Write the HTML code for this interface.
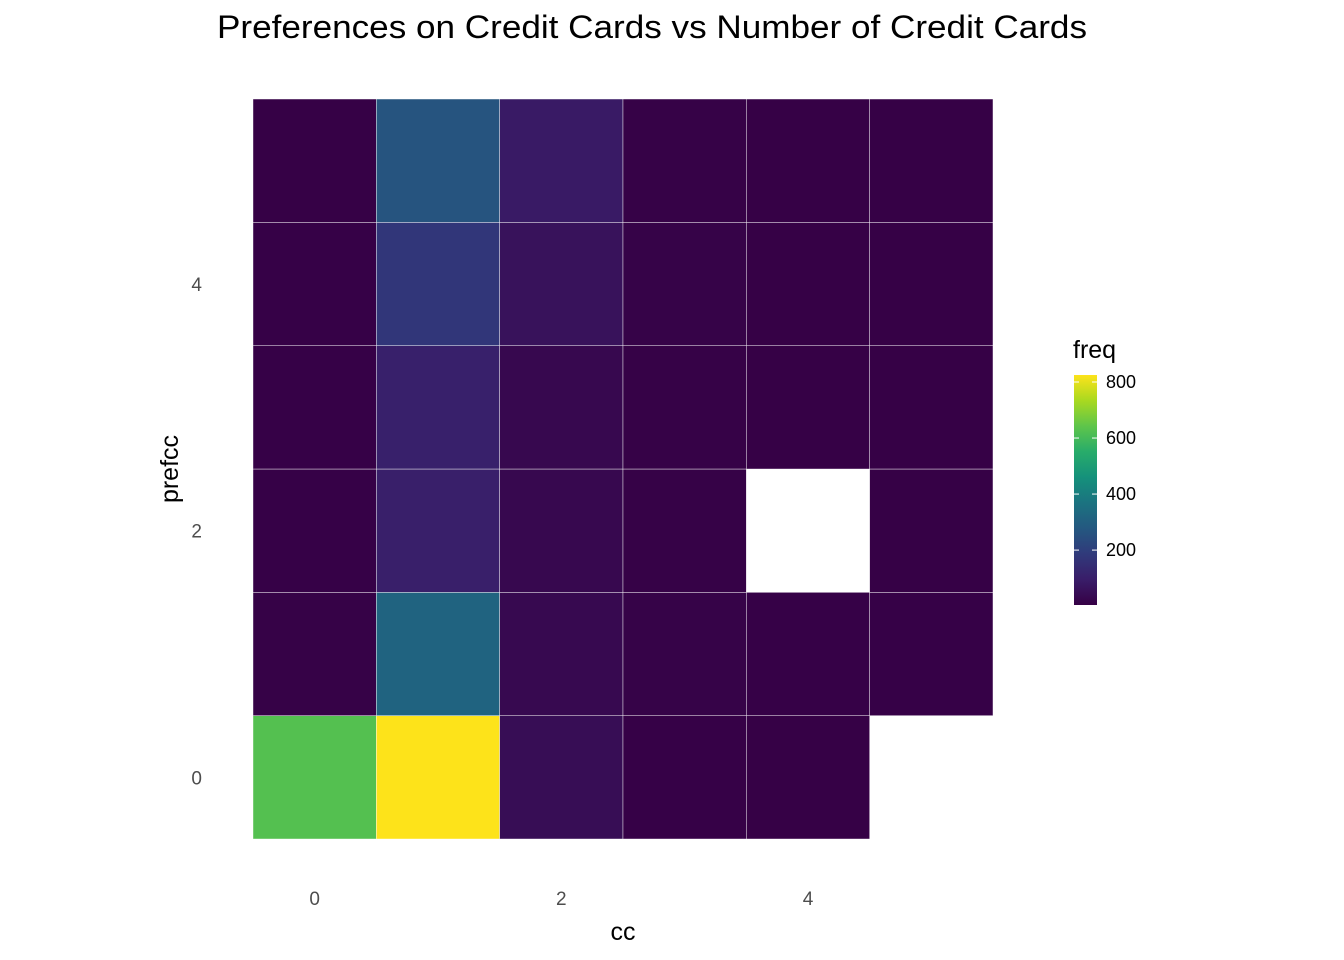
<!DOCTYPE html>
<html><head><meta charset="utf-8"><style>
body{margin:0;background:#fff;}
svg{display:block;font-family:"Liberation Sans",Arial,sans-serif;}
</style></head><body>
<svg id="chart" width="1344" height="960">
<text x="652" y="38" text-anchor="middle" font-size="32" textLength="870" lengthAdjust="spacingAndGlyphs" fill="#000">Preferences on Credit Cards vs Number of Credit Cards</text>
<g id="cells"></g>
<g id="axes"></g>
<text x="623" y="940" text-anchor="middle" font-size="25" fill="#000">cc</text>
<text transform="translate(178,469) rotate(-90)" text-anchor="middle" font-size="25" fill="#000">prefcc</text>
<g id="legend"></g>
</svg>
<script>
const ccCats=[0,1,2,3,4,5];
const prefCats=[0,1,2,3,4,5];
// freq[prefcc][cc], null = missing
const freq0=[625,825,45,8,6,null];
const freq1=[10,315,32,12,8,8];
const freq2=[8,100,30,10,null,6];
const freq3=[8,105,30,10,6,6];
const freq4=[8,175,60,12,6,6];
const freq5=[6,265,85,10,6,6];
const freqRows=[freq0,freq1,freq2,freq3,freq4,freq5];
const xTicks=[0,2,4];
const yTicks=[0,2,4];
const legendTicks=[200,400,600,800];
const vmin=4,vmax=825;

const NS="http://www.w3.org/2000/svg";
const x0=253,cw=123.33,yb=839,ch=123.33;
const xs=c=>x0+(c+0.5)*cw;
const ys=p=>yb-(p+0.5)*ch;
const vir=[[68,1,84],[72,40,120],[62,73,137],[49,104,142],[38,130,142],[31,158,137],[53,183,121],[109,205,89],[180,222,44],[253,231,37]];
const G=1.18;
const gam=x=>Math.round(255*Math.pow(x/255,G));
const virG=vir.map(c=>c.map(gam));
function color(v){let t=(v-vmin)/(vmax-vmin);t=Math.max(0,Math.min(1,t))*(virG.length-1);const i=Math.min(Math.floor(t),virG.length-2),f=t-i;const a=virG[i],b=virG[i+1];return `rgb(${a.map((x,k)=>Math.round(x+(b[k]-x)*f)).join(',')})`;}
function mk(tag,attrs,parent){const e=document.createElementNS(NS,tag);for(const k in attrs)e.setAttribute(k,attrs[k]);parent.appendChild(e);return e;}
const cells=document.getElementById('cells');
prefCats.forEach((p,pi)=>ccCats.forEach((c,ci)=>{const v=freqRows[pi][ci];if(v==null)return;
const r=mk('rect',{x:xs(c)-cw/2,y:ys(p)-ch/2,width:cw,height:ch,fill:color(v),stroke:'#ffffff','stroke-width':0.6,'stroke-opacity':0.7},cells);

}));
const axes=document.getElementById('axes');
xTicks.forEach(t=>{const e=mk('text',{x:xs(t),y:905,'text-anchor':'middle','font-size':19,fill:'#4d4d4d'},axes);e.textContent=t;

});
yTicks.forEach(t=>{const e=mk('text',{x:202,y:ys(t)+7,'text-anchor':'end','font-size':19,fill:'#4d4d4d'},axes);e.textContent=t;

});
const lg=document.getElementById('legend');
const lt=mk('text',{x:1073,y:358,'font-size':25,fill:'#000'},lg);lt.textContent='freq';


const ly=v=>605-(v-vmin)*(230/(vmax-vmin));
const defs=mk('defs',{},lg);const gr=mk('linearGradient',{id:'vg',x1:0,y1:1,x2:0,y2:0},defs);
virG.forEach((c,i)=>mk('stop',{offset:i/(virG.length-1),'stop-color':`rgb(${c.join(',')})`},gr));
const bar=mk('rect',{x:1074,y:ly(vmax),width:23,height:ly(vmin)-ly(vmax),fill:'url(#vg)'},lg);


legendTicks.forEach(t=>{const y=ly(t);
mk('line',{x1:1074,x2:1079,y1:y,y2:y,stroke:'#fff','stroke-width':1},lg);
mk('line',{x1:1092,x2:1097,y1:y,y2:y,stroke:'#fff','stroke-width':1},lg);
const e=mk('text',{x:1106,y:y+6,'font-size':18,fill:'#000'},lg);e.textContent=t;

});
</script>
</body></html>
